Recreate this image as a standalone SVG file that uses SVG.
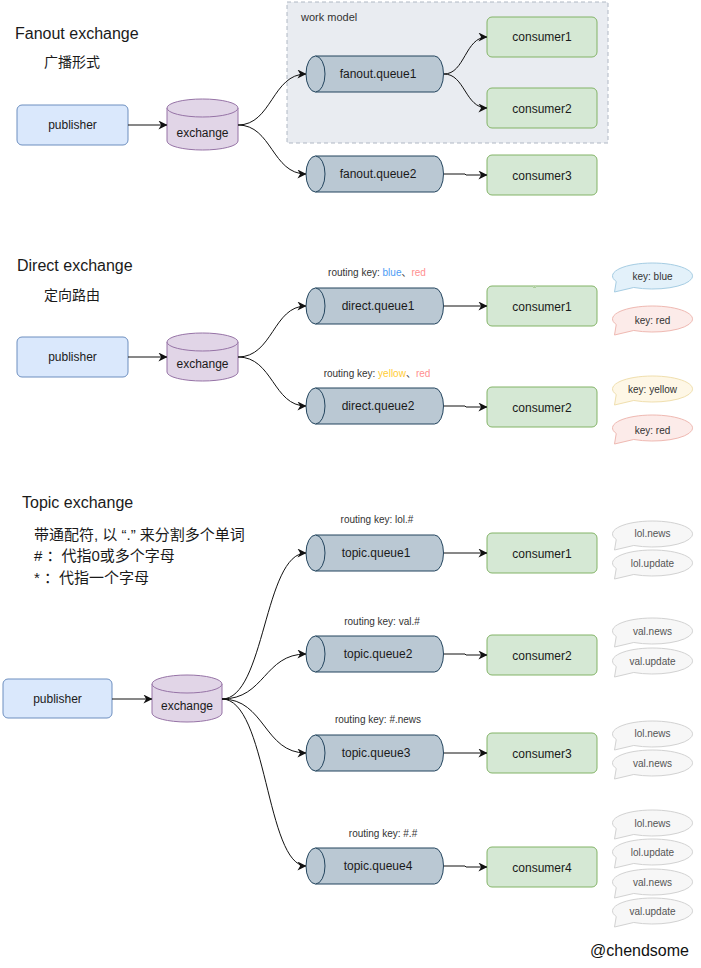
<svg xmlns="http://www.w3.org/2000/svg" xmlns:xlink="http://www.w3.org/1999/xlink" width="701" height="968" viewBox="0 0 701 968">
<style>
text{font-family:"Liberation Sans","Noto Sans CJK SC",sans-serif;fill:#1a1a1a}
.t{font-size:12px;text-anchor:middle}
.h{font-size:16px}
.c{font-size:14px}
.c2{font-size:15px}
.rk{font-size:10px;text-anchor:middle;fill:#333}
.bt{font-size:10px;text-anchor:middle;fill:#333}
.gt{font-size:10px;text-anchor:middle;fill:#555}
.pub{fill:#dae8fc;stroke:#6c8ebf;stroke-width:1}
.con{fill:#d5e8d4;stroke:#82b366;stroke-width:1}
.q{fill:#bac8d3;stroke:#23445d;stroke-width:1}
.ex{fill:#e1d5e7;stroke:#9673a6;stroke-width:1}
.blue{fill:#e3f1fa;stroke:#a6cde3}
.red{fill:#fcebe9;stroke:#efb9b2}
.yel{fill:#fef7e6;stroke:#f0dfae}
.gray{fill:#f7f7f7;stroke:#d2d2d2}
.sk{filter:url(#rough)}
.e{fill:none;stroke:#111;stroke-width:1;marker-end:url(#arr)}
</style>
<defs>
<filter id="rough" x="-10%" y="-30%" width="120%" height="160%">
<feTurbulence type="fractalNoise" baseFrequency="0.04" numOctaves="1" seed="5" result="n"/>
<feDisplacementMap in="SourceGraphic" in2="n" scale="1.6" xChannelSelector="R" yChannelSelector="G"/>
</filter>
<marker id="arr" viewBox="0 0 10 10" refX="9.5" refY="5" markerWidth="9" markerHeight="9" markerUnits="userSpaceOnUse" orient="auto">
<path d="M0,0 L10,5 L0,10 L3,5 Z" fill="#111"/>
</marker>
<path id="bub" d="M-36.25,5.49 A40,13 0 1 1 -18.78,11.48 L-38,16 Z"/>
<g id="hq">
<path d="M9.5,0 H128.5 A9,18 0 0 1 128.5,36 H9.5 Z"/>
<ellipse cx="9.5" cy="18" rx="9.5" ry="18"/>
</g>
</defs>

<!-- ================= Fanout ================= -->
<g id="fanout-title">
<text class="h" x="15" y="39">Fanout exchange</text>
<text class="c" x="44" y="67">广播形式</text>
</g>
<g id="work-model">
<rect x="287" y="2" width="321" height="141" fill="#e9ecf1" stroke="#b0b8c4" stroke-dasharray="4 3"/>
<text x="301" y="21" style="font-size:11px;fill:#333">work model</text>
</g>
<g id="f-publisher">
<rect class="pub sk" x="17" y="105" width="111" height="40" rx="5"/>
<text class="t" x="72.5" y="129">publisher</text>
</g>
<g id="f-exchange">
<path class="ex" d="M167,108 A35.5,9 0 0 1 238,108 V141 A35.5,9 0 0 1 167,141 Z"/>
<path class="ex" d="M167,108 A35.5,9 0 0 0 238,108" fill="none"/>
<text class="t" x="202.5" y="137">exchange</text>
</g>
<g id="f-queue1">
<use xlink:href="#hq" class="q sk" x="306" y="56"/>
<text class="t" x="378" y="78">fanout.queue1</text>
</g>
<g id="f-queue2">
<use xlink:href="#hq" class="q sk" x="306" y="156"/>
<text class="t" x="378" y="178">fanout.queue2</text>
</g>
<g id="f-consumer1">
<rect class="con sk" x="487" y="17" width="110" height="40" rx="5"/>
<text class="t" x="542" y="41">consumer1</text>
</g>
<g id="f-consumer2">
<rect class="con sk" x="487" y="88" width="110" height="40" rx="5"/>
<text class="t" x="542" y="113">consumer2</text>
</g>
<g id="f-consumer3">
<rect class="con sk" x="487" y="155" width="110" height="40" rx="5"/>
<text class="t" x="542" y="180">consumer3</text>
</g>

<!-- ================= Direct ================= -->
<g id="direct-title">
<text class="h" x="17" y="271">Direct exchange</text>
<text class="c" x="44" y="300">定向路由</text>
</g>
<g id="d-publisher">
<rect class="pub sk" x="17" y="337" width="111" height="40" rx="5"/>
<text class="t" x="72.5" y="361">publisher</text>
</g>
<g id="d-exchange">
<path class="ex" d="M167,342 A35.5,9 0 0 1 238,342 V372 A35.5,9 0 0 1 167,372 Z"/>
<path class="ex" d="M167,342 A35.5,9 0 0 0 238,342" fill="none"/>
<text class="t" x="202.5" y="368">exchange</text>
</g>
<g id="d-queue1">
<text class="rk" x="377" y="276">routing key: <tspan style="fill:#4d9cf5">blue</tspan>、<tspan style="fill:#ff8f8f">red</tspan></text>
<use xlink:href="#hq" class="q sk" x="306" y="288"/>
<text class="t" x="378" y="310">direct.queue1</text>
</g>
<g id="d-queue2">
<text class="rk" x="377" y="377">routing key: <tspan style="fill:#ffcc33">yellow</tspan>、<tspan style="fill:#ff8f8f">red</tspan></text>
<use xlink:href="#hq" class="q sk" x="306" y="388"/>
<text class="t" x="378" y="410">direct.queue2</text>
</g>
<g id="d-consumer1">
<rect class="con sk" x="487" y="286" width="110" height="40" rx="5"/>
<text class="t" x="542" y="311">consumer1</text>
</g>
<g id="d-consumer2">
<rect class="con sk" x="487" y="387" width="110" height="40" rx="5"/>
<text class="t" x="542" y="412">consumer2</text>
</g>
<g id="d-bubbles">
<use xlink:href="#bub" class="blue" x="652.5" y="276"/>
<text class="bt" x="652.5" y="280">key: blue</text>
<use xlink:href="#bub" class="red" x="652.5" y="319"/>
<text class="bt" x="652.5" y="324">key: red</text>
<use xlink:href="#bub" class="yel" x="652.5" y="389"/>
<text class="bt" x="652.5" y="393">key: yellow</text>
<use xlink:href="#bub" class="red" x="652.5" y="428"/>
<text class="bt" x="652.5" y="434">key: red</text>
</g>

<!-- ================= Topic ================= -->
<g id="topic-title">
<text class="h" x="22" y="508">Topic exchange</text>
<text class="c2" x="34" y="540">带通配符, 以 “.” 来分割多个单词</text>
<text class="c2" x="34" y="561"># ：代指0或多个字母</text>
<text class="c2" x="34" y="583">* ：代指一个字母</text>
</g>
<g id="t-publisher">
<rect class="pub sk" x="3" y="679" width="109" height="39" rx="5"/>
<text class="t" x="57.5" y="703">publisher</text>
</g>
<g id="t-exchange">
<path class="ex" d="M152,684 A35,9 0 0 1 222,684 V713 A35,9 0 0 1 152,713 Z"/>
<path class="ex" d="M152,684 A35,9 0 0 0 222,684" fill="none"/>
<text class="t" x="187" y="710">exchange</text>
</g>
<g id="t-queue1">
<text class="rk" x="377" y="523">routing key: lol.#</text>
<use xlink:href="#hq" class="q sk" x="306" y="535"/>
<text class="t" x="376" y="557">topic.queue1</text>
</g>
<g id="t-queue2">
<text class="rk" x="382" y="625">routing key: val.#</text>
<use xlink:href="#hq" class="q sk" x="306" y="636"/>
<text class="t" x="378" y="658">topic.queue2</text>
</g>
<g id="t-queue3">
<text class="rk" x="378" y="723">routing key: #.news</text>
<use xlink:href="#hq" class="q sk" x="306" y="735"/>
<text class="t" x="376" y="757">topic.queue3</text>
</g>
<g id="t-queue4">
<text class="rk" x="383" y="837">routing key: #.#</text>
<use xlink:href="#hq" class="q sk" x="306" y="848"/>
<text class="t" x="378" y="870">topic.queue4</text>
</g>
<g id="t-consumer1">
<rect class="con sk" x="487" y="533" width="110" height="40" rx="5"/>
<text class="t" x="542" y="558">consumer1</text>
</g>
<g id="t-consumer2">
<rect class="con sk" x="487" y="635" width="110" height="40" rx="5"/>
<text class="t" x="542" y="660">consumer2</text>
</g>
<g id="t-consumer3">
<rect class="con sk" x="487" y="733" width="110" height="40" rx="5"/>
<text class="t" x="542" y="758">consumer3</text>
</g>
<g id="t-consumer4">
<rect class="con sk" x="487" y="847" width="110" height="40" rx="5"/>
<text class="t" x="542" y="872">consumer4</text>
</g>
<g id="t-bubbles">
<use xlink:href="#bub" class="gray" x="652.5" y="534"/>
<text class="gt" x="652.5" y="537">lol.news</text>
<use xlink:href="#bub" class="gray" x="652.5" y="563"/>
<text class="gt" x="652.5" y="567">lol.update</text>
<use xlink:href="#bub" class="gray" x="652.5" y="631"/>
<text class="gt" x="652.5" y="635">val.news</text>
<use xlink:href="#bub" class="gray" x="652.5" y="661"/>
<text class="gt" x="652.5" y="665">val.update</text>
<use xlink:href="#bub" class="gray" x="652.5" y="734"/>
<text class="gt" x="652.5" y="737">lol.news</text>
<use xlink:href="#bub" class="gray" x="652.5" y="763"/>
<text class="gt" x="652.5" y="767">val.news</text>
<use xlink:href="#bub" class="gray" x="652.5" y="823"/>
<text class="gt" x="652.5" y="827">lol.news</text>
<use xlink:href="#bub" class="gray" x="652.5" y="852"/>
<text class="gt" x="652.5" y="856">lol.update</text>
<use xlink:href="#bub" class="gray" x="652.5" y="882"/>
<text class="gt" x="652.5" y="886">val.news</text>
<use xlink:href="#bub" class="gray" x="652.5" y="911"/>
<text class="gt" x="652.5" y="915">val.update</text>
</g>
<g id="signature">
<text x="590" y="956" style="font-size:16px;fill:#111">@chendsome</text>
</g>

<!-- ================= Connectors ================= -->
<g id="connectors">
<path class="e" d="M128,125 H167"/>
<path class="e" d="M238,125 C272,125 272,74 306,74"/>
<path class="e" d="M238,125 C272,125 272,174 306,174"/>
<path class="e" d="M444,74 C465,74 465,37 487,37"/>
<path class="e" d="M444,74 C465,74 465,108 487,108"/>
<path class="e" d="M444,174 H465 L466,175 H487"/>

<path class="e" d="M128,357 H167"/>
<path class="e" d="M238,357 C273,357 273,306 306,306"/>
<path class="e" d="M238,357 C273,357 273,406 306,406"/>
<path class="e" d="M444,306 H487"/>
<path class="e" d="M444,406 H465 L466,407 H487"/>

<path class="e" d="M112,699 H152"/>
<path class="e" d="M222,699 C265,699 264,553 306,553"/>
<path class="e" d="M222,699 C265,699 264,654 306,654"/>
<path class="e" d="M222,699 C265,699 264,753 306,753"/>
<path class="e" d="M222,699 C267,699 266,866 306,866"/>
<path class="e" d="M444,553 H487"/>
<path class="e" d="M444,654 H465 L466,655 H487"/>
<path class="e" d="M444,753 H487"/>
<path class="e" d="M444,866 H465 L466,867 H487"/>
</g>
</svg>
